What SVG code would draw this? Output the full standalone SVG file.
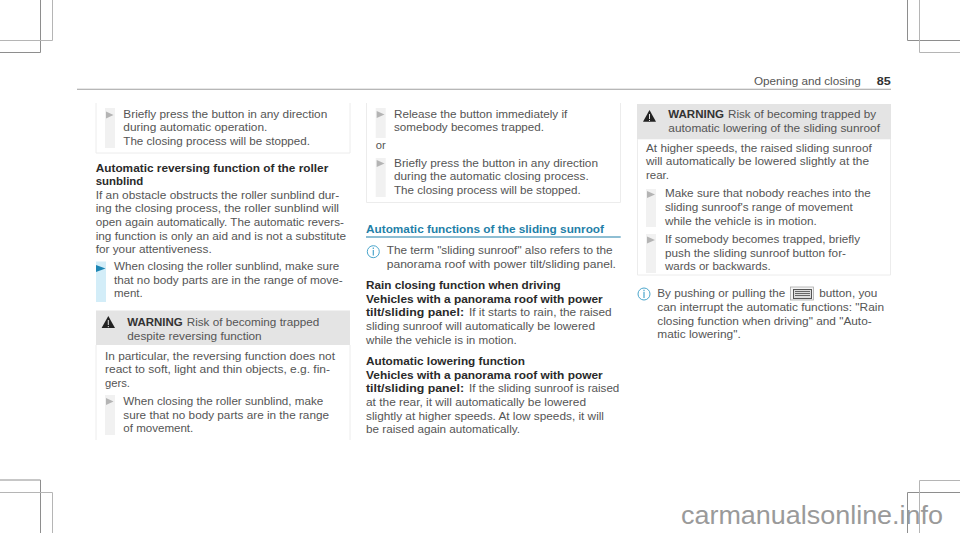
<svg xmlns="http://www.w3.org/2000/svg" width="960" height="533" viewBox="0 0 960 533">
<style>
text{font-family:"Liberation Sans",Arial,sans-serif;font-size:11.2px;fill:#555}
.b{font-weight:700;fill:#333}
.h{font-weight:700;fill:#2a2a2a;font-size:11.2px}
.t{font-weight:700;fill:#1f7fa8;font-size:11.2px}
.crop{stroke:#8e8e8e;stroke-width:1;fill:none}
.crop2{stroke:#b5b5b5;stroke-width:1;fill:none}
.box{fill:none;stroke:#ececec;stroke-width:1}
.bar{fill:#f1f1f1}
.ar{fill:#b4b4b4}
.hd{fill:#e4e4e4}
.i{fill:none;stroke:#4ba6cc;stroke-width:1}
.wm{font-size:25.6px;fill:#9a9a9a}
</style>
<rect width="960" height="533" fill="#fff"/>
<g id="crop-marks">
<path class="crop" d="M40.500 0V52.500H0M0 480H40.500V533M907.500 0V40.500H960M907.500 533V492.500H960"/>
<path class="crop2" d="M52.500 0V40.500H0M0 492.500H52.500V533M919.500 0V52.500H960M919.500 533V480.500H960"/>
</g>
<g id="page-header">
<rect x="77" y="88.700" width="814" height="1.200" fill="#b0b0b0"/>
<text x="754" y="85" textLength="106.700" lengthAdjust="spacingAndGlyphs">Opening and closing</text>
<text x="876.700" y="85" textLength="14" lengthAdjust="spacingAndGlyphs" class="b">85</text>
</g>
<g id="column-1">
<path class="box" d="M96 103V153H350V103"/>
<rect class="bar" x="105" y="108" width="10" height="40"/>
<path class="ar" d="M106 111.500L113.500 115L106 118.500Z"/>
<text x="123.300" y="117.700" textLength="204" lengthAdjust="spacingAndGlyphs">Briefly press the button in any direction</text>
<text x="123.300" y="131.300" textLength="144" lengthAdjust="spacingAndGlyphs">during automatic operation.</text>
<text x="123.300" y="145" textLength="186.700" lengthAdjust="spacingAndGlyphs">The closing process will be stopped.</text>
<text x="95.700" y="171.500" textLength="232.600" lengthAdjust="spacingAndGlyphs" class="h">Automatic reversing function of the roller</text>
<text x="95.700" y="185" textLength="47.600" lengthAdjust="spacingAndGlyphs" class="h">sunblind</text>
<text x="95.700" y="198.800" textLength="243.600" lengthAdjust="spacingAndGlyphs">If an obstacle obstructs the roller sunblind dur-</text>
<text x="95.700" y="212.400" textLength="243.300" lengthAdjust="spacingAndGlyphs">ing the closing process, the roller sunblind will</text>
<text x="95.700" y="226" textLength="248.300" lengthAdjust="spacingAndGlyphs">open again automatically. The automatic revers-</text>
<text x="95.700" y="239.600" textLength="250.300" lengthAdjust="spacingAndGlyphs">ing function is only an aid and is not a substitute</text>
<text x="95.700" y="253.200" textLength="116" lengthAdjust="spacingAndGlyphs">for your attentiveness.</text>
<rect x="96" y="261.500" width="10" height="40.500" fill="#d3edf8"/>
<path d="M96 265L105.500 268.500L96 272Z" fill="#1d86b4"/>
<text x="114" y="270.200" textLength="225.300" lengthAdjust="spacingAndGlyphs">When closing the roller sunblind, make sure</text>
<text x="114" y="283.800" textLength="228.700" lengthAdjust="spacingAndGlyphs">that no body parts are in the range of move-</text>
<text x="114" y="297.400" textLength="28.700" lengthAdjust="spacingAndGlyphs">ment.</text>
</g>
<g id="warning-1">
<rect class="hd" x="96" y="310.500" width="254" height="34.500"/>
<path class="box" d="M96 345V440M350 345V440"/>
<path d="M108.300 316L115 328H101.600Z" fill="#222"/>
<path d="M108.300 320V325M108.300 326V327.200" stroke="#e4e4e4" stroke-width="1"/>
<text x="127.300" y="326" textLength="55.400" lengthAdjust="spacingAndGlyphs" class="b">WARNING</text>
<text x="186.700" y="326" textLength="132.600" lengthAdjust="spacingAndGlyphs">Risk of becoming trapped</text>
<text x="127.300" y="339.800" textLength="134.400" lengthAdjust="spacingAndGlyphs">despite reversing function</text>
<text x="105" y="359.500" textLength="230" lengthAdjust="spacingAndGlyphs">In particular, the reversing function does not</text>
<text x="105" y="373.200" textLength="225" lengthAdjust="spacingAndGlyphs">react to soft, light and thin objects, e.g. fin-</text>
<text x="105" y="386.800" textLength="25" lengthAdjust="spacingAndGlyphs">gers.</text>
<rect class="bar" x="105" y="395" width="10" height="40"/>
<path class="ar" d="M106 398L113.500 401.500L106 405Z"/>
<text x="123.300" y="405" textLength="200" lengthAdjust="spacingAndGlyphs">When closing the roller sunblind, make</text>
<text x="123.300" y="418.600" textLength="205.700" lengthAdjust="spacingAndGlyphs">sure that no body parts are in the range</text>
<text x="123.300" y="432.200" textLength="70" lengthAdjust="spacingAndGlyphs">of movement.</text>
</g>
<g id="column-2">
<path class="box" d="M366.500 103V202.500H620.500V103"/>
<rect class="bar" x="375.700" y="108" width="10" height="30"/>
<path class="ar" d="M376.700 111L384.500 114.500L376.700 118Z"/>
<text x="394" y="117.700" textLength="173.300" lengthAdjust="spacingAndGlyphs">Release the button immediately if</text>
<text x="394" y="131.300" textLength="150" lengthAdjust="spacingAndGlyphs">somebody becomes trapped.</text>
<text x="375.700" y="149" textLength="10" lengthAdjust="spacingAndGlyphs">or</text>
<rect class="bar" x="375.700" y="158" width="10" height="39"/>
<path class="ar" d="M376.700 160L384.500 163.500L376.700 167Z"/>
<text x="394" y="166.700" textLength="204" lengthAdjust="spacingAndGlyphs">Briefly press the button in any direction</text>
<text x="394" y="180.300" textLength="194.700" lengthAdjust="spacingAndGlyphs">during the automatic closing process.</text>
<text x="394" y="194" textLength="186.700" lengthAdjust="spacingAndGlyphs">The closing process will be stopped.</text>
<text x="366" y="232.700" textLength="238" lengthAdjust="spacingAndGlyphs" class="t">Automatic functions of the sliding sunroof</text>
<rect x="366" y="236.500" width="254.700" height="1" fill="#1f7fa8"/>
<circle class="i" cx="373.300" cy="251.700" r="6"/>
<path d="M373.300 250V255.500M373.300 247.500V249" stroke="#4ba6cc" stroke-width="1.200"/>
<text x="386.700" y="254.300" textLength="226" lengthAdjust="spacingAndGlyphs">The term "sliding sunroof" also refers to the</text>
<text x="386.700" y="268" textLength="229.300" lengthAdjust="spacingAndGlyphs">panorama roof with power tilt/sliding panel.</text>
<text x="366" y="289" textLength="194.700" lengthAdjust="spacingAndGlyphs" class="h">Rain closing function when driving</text>
<text x="366" y="302.700" textLength="236.700" lengthAdjust="spacingAndGlyphs" class="h">Vehicles with a panorama roof with power</text>
<text x="366" y="316.300" textLength="98" lengthAdjust="spacingAndGlyphs" class="h">tilt/sliding panel:</text>
<text x="469" y="316.300" textLength="142.700" lengthAdjust="spacingAndGlyphs">If it starts to rain, the raised</text>
<text x="366" y="330" textLength="229" lengthAdjust="spacingAndGlyphs">sliding sunroof will automatically be lowered</text>
<text x="366" y="343.600" textLength="150.700" lengthAdjust="spacingAndGlyphs">while the vehicle is in motion.</text>
<text x="366" y="365" textLength="159" lengthAdjust="spacingAndGlyphs" class="h">Automatic lowering function</text>
<text x="366" y="378.600" textLength="236.700" lengthAdjust="spacingAndGlyphs" class="h">Vehicles with a panorama roof with power</text>
<text x="366" y="392.300" textLength="98" lengthAdjust="spacingAndGlyphs" class="h">tilt/sliding panel:</text>
<text x="469" y="392.300" textLength="150.300" lengthAdjust="spacingAndGlyphs">If the sliding sunroof is raised</text>
<text x="366" y="406" textLength="220" lengthAdjust="spacingAndGlyphs">at the rear, it will automatically be lowered</text>
<text x="366" y="419.600" textLength="238" lengthAdjust="spacingAndGlyphs">slightly at higher speeds. At low speeds, it will</text>
<text x="366" y="433.200" textLength="154" lengthAdjust="spacingAndGlyphs">be raised again automatically.</text>
</g>
<g id="warning-2">
<rect class="hd" x="637" y="104" width="254" height="35.300"/>
<path class="box" d="M637.500 139V275H890.500V139"/>
<path d="M649.500 110L656 121.700H643Z" fill="#222"/>
<path d="M649.500 114V119M649.500 120V121" stroke="#e4e4e4" stroke-width="1"/>
<text x="668.300" y="118.300" textLength="55.700" lengthAdjust="spacingAndGlyphs" class="b">WARNING</text>
<text x="728" y="118.300" textLength="148" lengthAdjust="spacingAndGlyphs">Risk of becoming trapped by</text>
<text x="668.300" y="132" textLength="211.700" lengthAdjust="spacingAndGlyphs">automatic lowering of the sliding sunroof</text>
<text x="646" y="151.700" textLength="225.700" lengthAdjust="spacingAndGlyphs">At higher speeds, the raised sliding sunroof</text>
<text x="646" y="165.300" textLength="223" lengthAdjust="spacingAndGlyphs">will automatically be lowered slightly at the</text>
<text x="646" y="179" textLength="23" lengthAdjust="spacingAndGlyphs">rear.</text>
<rect class="bar" x="646" y="189" width="10" height="38"/>
<path class="ar" d="M647 191L655 194.500L647 198Z"/>
<text x="665" y="197.300" textLength="205.700" lengthAdjust="spacingAndGlyphs">Make sure that nobody reaches into the</text>
<text x="665" y="211" textLength="187.700" lengthAdjust="spacingAndGlyphs">sliding sunroof's range of movement</text>
<text x="665" y="224.600" textLength="151.700" lengthAdjust="spacingAndGlyphs">while the vehicle is in motion.</text>
<rect class="bar" x="646" y="234" width="10" height="39"/>
<path class="ar" d="M647 236.500L655 240L647 243.500Z"/>
<text x="665" y="243" textLength="195" lengthAdjust="spacingAndGlyphs">If somebody becomes trapped, briefly</text>
<text x="665" y="256.600" textLength="181" lengthAdjust="spacingAndGlyphs">push the sliding sunroof button for-</text>
<text x="665" y="270.200" textLength="105.700" lengthAdjust="spacingAndGlyphs">wards or backwards.</text>
</g>
<g id="note-3">
<circle class="i" cx="644" cy="294" r="6"/>
<path d="M644 292V298M644 289.800V291.200" stroke="#4ba6cc" stroke-width="1.200"/>
<text x="657.300" y="297.300" textLength="128" lengthAdjust="spacingAndGlyphs">By pushing or pulling the</text>
<rect x="790.500" y="287" width="23" height="13" fill="#f4f4f4" stroke="#aaa" stroke-width=".8"/>
<rect x="793.500" y="289.500" width="18" height="9" fill="#ddd" stroke="#555" stroke-width="1"/>
<path d="M795 291.500H810M795 293.500H810M795 295.500H810" stroke="#666" stroke-width="1"/>
<text x="819.300" y="297.300" textLength="58" lengthAdjust="spacingAndGlyphs">button, you</text>
<text x="657.300" y="311" textLength="226.700" lengthAdjust="spacingAndGlyphs">can interrupt the automatic functions: "Rain</text>
<text x="657.300" y="324.600" textLength="214.400" lengthAdjust="spacingAndGlyphs">closing function when driving" and "Auto-</text>
<text x="657.300" y="338.200" textLength="83.400" lengthAdjust="spacingAndGlyphs">matic lowering".</text>
</g>
<text class="wm" x="681" y="524" textLength="262" lengthAdjust="spacingAndGlyphs">carmanualsonline.info</text>
</svg>
